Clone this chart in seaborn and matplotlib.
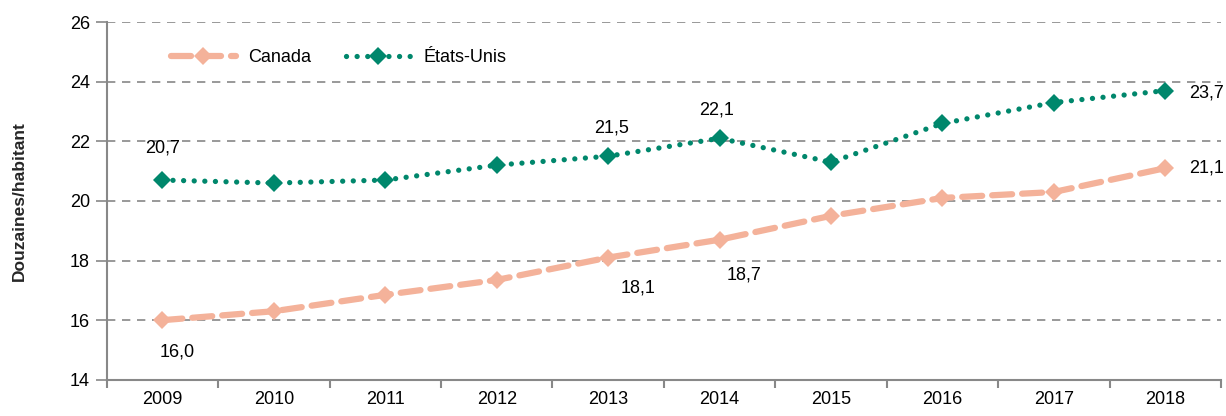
import matplotlib
matplotlib.use("Agg")
import matplotlib.pyplot as plt
import seaborn as sns
import pandas as pd

annees = ['2009', '2010', '2011', '2012', '2013', '2014', '2015', '2016', '2017', '2018']
canada = [16.0, 16.3, 16.85, 17.35, 18.1, 18.7, 19.5, 20.1, 20.3, 21.1]
etats_unis = [20.7, 20.6, 20.7, 21.2, 21.5, 22.1, 21.3, 22.6, 23.3, 23.7]
yticks = [14, 16, 18, 20, 22, 24, 26]

sns.set_style("white")
plt.rcParams['font.family'] = ['Liberation Sans', 'DejaVu Sans']
plt.rcParams['text.color'] = 'black'
plt.rcParams['xtick.color'] = 'black'
plt.rcParams['ytick.color'] = 'black'

df = pd.DataFrame({
    'annee': list(range(len(annees))) * 2,
    'valeur': canada + etats_unis,
    'pays': ['Canada'] * len(annees) + ['États-Unis'] * len(annees),
})

couleurs = {'Canada': '#F4B29A', 'États-Unis': '#00876C'}

fig, ax = plt.subplots(figsize=(12.26, 4.16), dpi=100)
fig.subplots_adjust(left=0.087, right=0.996, top=0.947, bottom=0.087)

sns.lineplot(data=df, x='annee', y='valeur', hue='pays', style='pays',
             palette=couleurs, markers={'Canada': 'D', 'États-Unis': 'D'},
             dashes={'Canada': (3.2, 1.6), 'États-Unis': (0.01, 2.0)},
             markersize=9, markeredgewidth=0, ax=ax, legend=False)

for line, lw in zip(ax.lines, [4.5, 3.8]):
    line.set_linewidth(lw)
    line.set_dash_capstyle('round')

ax.set_xlim(-0.5, len(annees) - 0.5)
ax.set_ylim(14, 26)
ax.set_yticks(yticks)
ax.set_xticks(range(len(annees)))
ax.set_xticklabels(annees)
ax.set_xticks([i - 0.5 for i in range(len(annees) + 1)], minor=True)
ax.tick_params(axis='x', which='major', length=0, labelsize=13, pad=8)
ax.tick_params(axis='x', which='minor', bottom=True, length=6, color='#888888',
               width=1.5, direction='out')
ax.tick_params(axis='y', left=True, length=8, color='#888888', width=1.2,
               direction='out', labelsize=13, pad=4)
ax.yaxis.grid(True, color='#888888', linestyle=(0, (5, 4)), linewidth=1.2)
ax.set_axisbelow(True)
for s in ['top', 'right']:
    ax.spines[s].set_visible(False)
for s in ['left', 'bottom']:
    ax.spines[s].set_color('#888888')
    ax.spines[s].set_linewidth(1.5)
ax.set_xlabel('')
ax.set_ylabel('Douzaines/habitant', fontsize=12.5, fontweight='bold')
ax.yaxis.set_label_coords(-0.072, 0.5)

fmt = lambda v: f"{v:.1f}".replace('.', ',')
ax.text(0, 21.78, fmt(etats_unis[0]), ha='center', va='center', fontsize=13)
ax.text(4.03, 22.45, fmt(etats_unis[4]), ha='center', va='center', fontsize=13)
ax.text(4.97, 23.05, fmt(etats_unis[5]), ha='center', va='center', fontsize=13)
ax.text(9.21, 23.62, fmt(etats_unis[9]), ha='left', va='center', fontsize=13)
ax.text(9.21, 21.1, fmt(canada[9]), ha='left', va='center', fontsize=13)
ax.text(0.13, 14.94, fmt(canada[0]), ha='center', va='center', fontsize=13)
ax.text(4.27, 17.08, fmt(canada[4]), ha='center', va='center', fontsize=13)
ax.text(5.22, 17.52, fmt(canada[5]), ha='center', va='center', fontsize=13)

ax.legend(handles=ax.lines[:2], labels=['Canada', 'États-Unis'], loc='upper left',
          bbox_to_anchor=(0.043, 0.97), ncol=2, frameon=False, fontsize=13,
          handlelength=3.6, columnspacing=1.9, handletextpad=0.7)

fig.savefig('out.png', dpi=100)
